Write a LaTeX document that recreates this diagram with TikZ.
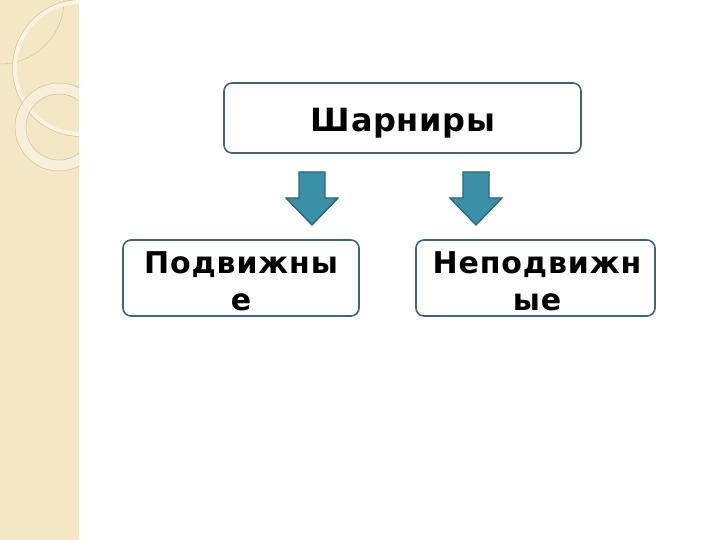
\documentclass[tikz,border=0pt]{standalone}
\usepackage{fontspec}
\setmainfont{DejaVu Sans}
\begin{document}
\begin{tikzpicture}[x=1pt,y=-1pt,
  box/.style={draw=boxline,line width=1.6pt,rounded corners=8pt,fill=white},
  arrowshape/.style={fill=arrowfill,draw=arrowline,line width=1.4pt,line join=miter},
  lbl/.style={font=\bfseries\fontsize{30}{37}\selectfont\addfontfeatures{LetterSpace=3},align=center,inner sep=0pt},
  toplbl/.style={font=\bfseries\fontsize{32}{36}\selectfont\addfontfeatures{LetterSpace=2},inner sep=0pt}]
\definecolor{boxline}{RGB}{64,100,112}
\definecolor{arrowfill}{RGB}{58,144,166}
\definecolor{arrowline}{RGB}{46,102,118}
\definecolor{strip}{RGB}{243,231,198}
\definecolor{ring}{RGB}{250,243,226}
\definecolor{ringline}{RGB}{212,194,158}
\useasboundingbox (0,0) rectangle (720,540);
\fill[white] (0,0) rectangle (720,540);
% decorative strip
\fill[strip] (0,0) rectangle (79,540);
\begin{scope}
\clip (0,0) rectangle (79,540);
\draw[ringline,line width=0.5pt] (0,0) circle (64);
\draw[ring,line width=4pt] (81,68) circle (66);
\draw[ringline,line width=0.5pt] (81,68) circle (68.5);
\draw[ring,line width=10pt,opacity=0.7] (59,127) circle (38.5);
\draw[ringline,line width=0.5pt] (59,127) circle (33);
\draw[ringline,line width=0.5pt] (59,127) circle (44);
\end{scope}
% boxes
\draw[box] (224,83) rectangle (581,153);
\node[toplbl,anchor=base] (top) at (403,132) {Шарниры};
\draw[box] (123,240) rectangle (359,316);
\draw[box] (416,240) rectangle (655,316);
\node[lbl,anchor=north] (left) at (241,251) {Подвижны\\е};
\node[lbl,anchor=north] (right) at (537,251) {Неподвижн\\ые};
% arrows
\draw[arrowshape] (299,172) -- (325,172) -- (325,198) -- (338,198) -- (312,225) -- (286,198) -- (299,198) -- cycle;
\draw[arrowshape] (463,172) -- (489,172) -- (489,198) -- (502,198) -- (476,225) -- (450,198) -- (463,198) -- cycle;
\end{tikzpicture}
\end{document}
